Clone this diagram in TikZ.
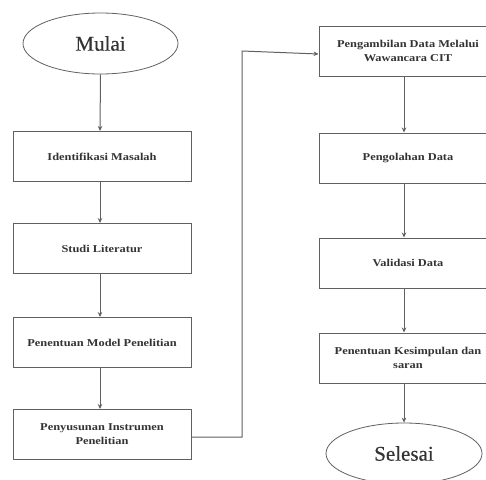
\documentclass[tikz,border=0pt]{standalone}
\usepackage{fontspec}
\setmainfont{Liberation Serif}
\newfontfamily\boxfont[FakeStretch=1.18]{Liberation Serif}
\newfontfamily\termfont[FakeBold=0.4]{Liberation Serif}
\usetikzlibrary{arrows.meta,shapes.geometric}
\definecolor{linec}{HTML}{606060}
\definecolor{textc}{HTML}{333333}
\tikzset{
  stepbox/.style={draw=linec, line width=1pt, rectangle, minimum width=178pt, minimum height=50pt,
    inner sep=0pt, align=center, text=textc, font=\boxfont\bfseries\fontsize{10.5}{14}\selectfont},
  term/.style={draw=linec, line width=0.8pt, ellipse, minimum width=155pt, minimum height=61pt,
    inner sep=0pt, text=textc, font=\termfont\fontsize{21}{24}\selectfont},
  arr/.style={draw=linec, line width=1pt, -{Stealth[length=5pt,width=4.5pt]}},
}
\begin{document}
\begin{tikzpicture}[x=1pt,y=-1pt]
\useasboundingbox (0,0) rectangle (486,479);
\clip (0,0) rectangle (486,479);
\node[term] (m) at (100.5,43.5) {Mulai};
\node[stepbox] (b1) at (102,156.5) {Identifikasi Masalah};
\node[stepbox] (b2) at (102,248.5) {Studi Literatur};
\node[stepbox] (b3) at (102,342.5) {Penentuan Model Penelitian};
\node[stepbox] (b4) at (102,434.5) {Penyusunan Instrumen\\Penelitian};
\node[stepbox] (r1) at (408,51) {Pengambilan Data Melalui\\Wawancara CIT};
\node[stepbox] (r2) at (408,158) {Pengolahan Data};
\node[stepbox] (r3) at (408,263) {Validasi Data};
\node[stepbox] (r4) at (408,358) {Penentuan Kesimpulan dan\\saran};
\node[term, minimum width=156pt] (s) at (404,453.5) {Selesai};
\coordinate (lx) at (100,0);
\coordinate (rx) at (404,0);
\draw[arr] (m.south) -- (lx |- b1.north);
\draw[arr] (lx |- b1.south) -- (lx |- b2.north);
\draw[arr] (lx |- b2.south) -- (lx |- b3.north);
\draw[arr] (lx |- b3.south) -- (lx |- b4.north);
\coordinate (turn) at (242,0);
\draw[arr] ([yshift=-2.5pt]b4.east) -| (turn |- r1.west) -- ([yshift=-3pt]r1.west);
\draw[arr] (rx |- r1.south) -- (rx |- r2.north);
\draw[arr] (rx |- r2.south) -- (rx |- r3.north);
\draw[arr] (rx |- r3.south) -- (rx |- r4.north);
\draw[arr] (rx |- r4.south) -- (s.north);
\end{tikzpicture}
\end{document}
